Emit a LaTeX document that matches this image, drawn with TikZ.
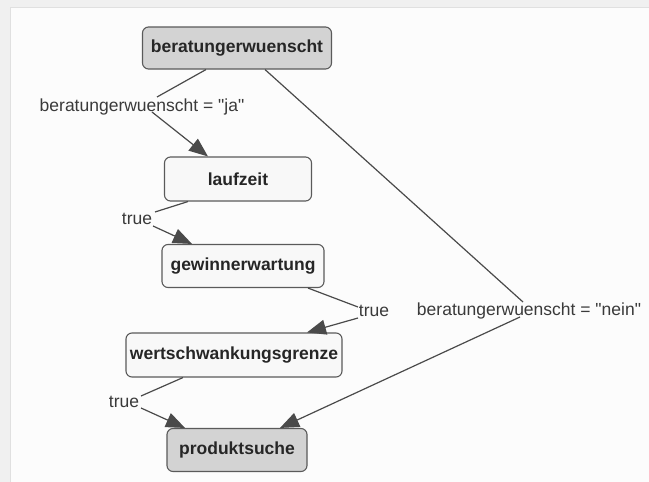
\documentclass[tikz,border=0pt]{standalone}
\usepackage{fontspec}
\setmainfont{Liberation Sans}[Ligatures=TeXOff]
\usetikzlibrary{arrows.meta}
\definecolor{edgecol}{HTML}{4A4A4A}
\definecolor{boxline}{HTML}{5A5A5A}
\definecolor{grayfill}{HTML}{D3D3D3}
\definecolor{whitefill}{HTML}{F8F8F8}
\definecolor{labelcol}{HTML}{3A3A3A}
\tikzset{
  box/.style={draw=boxline, line width=1.1pt, rounded corners=6pt, inner sep=0pt,
    font=\fontsize{17.5}{20}\selectfont\bfseries, text=black!85},
  startbox/.style={box, fill=grayfill},
  plainbox/.style={box, fill=whitefill},
  elabel/.style={inner sep=0pt, font=\fontsize{17.5}{20}\selectfont, text=labelcol},
  conn/.style={draw=edgecol, line width=1.2pt},
  arr/.style={conn, -{Triangle[length=19pt,width=15pt]}},
}
\begin{document}
\begin{tikzpicture}[x=1pt,y=-1pt]
\useasboundingbox (0,0) rectangle (649,482);
\fill[black!6] (0,0) rectangle (649,482);
\filldraw[fill=white!99!black, draw=black!12, line width=0.8pt] (10,7) rectangle (652,485);

% nodes
\node[startbox, minimum width=189pt, minimum height=42pt] (b) at (237,48) {beratungerwuenscht};
\node[plainbox, minimum width=147pt, minimum height=44pt] (l) at (238,179) {laufzeit};
\node[plainbox, minimum width=162pt, minimum height=43pt] (g) at (243,266) {gewinnerwartung};
\node[plainbox, minimum width=216pt, minimum height=44pt] (w) at (234,355) {wertschwankungsgrenze};
\node[startbox, minimum width=140pt, minimum height=43pt] (p) at (237,450) {produktsuche};

% edge labels
\node[elabel] (la) at (142,107) {beratungerwuenscht = "ja"};
\node[elabel] (t1) at (137,219) {true};
\node[elabel] (t2) at (374,311) {true};
\node[elabel] (t3) at (124,402) {true};
\node[elabel] (ln) at (529,311) {beratungerwuenscht = "nein"};

% connectors
\draw[conn] ([shift={(-31,0)}]b.south) -- ([shift={(15,-10)}]la.center);
\draw[arr] ([shift={(10,5)}]la.center) -- ([shift={(-30,0)}]l.north);

\draw[conn] ([shift={(-50,0)}]l.south) -- ([shift={(18,-7)}]t1.center);
\draw[arr] ([shift={(16,7)}]t1.center) -- ([shift={(-51,0)}]g.north);

\draw[conn] ([shift={(65,0)}]g.south) -- ([shift={(-16,-4)}]t2.center);
\draw[arr] ([shift={(-16,7)}]t2.center) -- ([shift={(73,0)}]w.north);

\draw[conn] ([shift={(-51,0)}]w.south) -- ([shift={(17,-6)}]t3.center);
\draw[arr] ([shift={(17,6)}]t3.center) -- ([shift={(-52,0)}]p.north);

\draw[conn] ([shift={(28,0)}]b.south) -- ([shift={(-6,-9)}]ln.center);
\draw[arr] ([shift={(-9,6)}]ln.center) -- ([shift={(43,0)}]p.north);
\end{tikzpicture}
\end{document}
